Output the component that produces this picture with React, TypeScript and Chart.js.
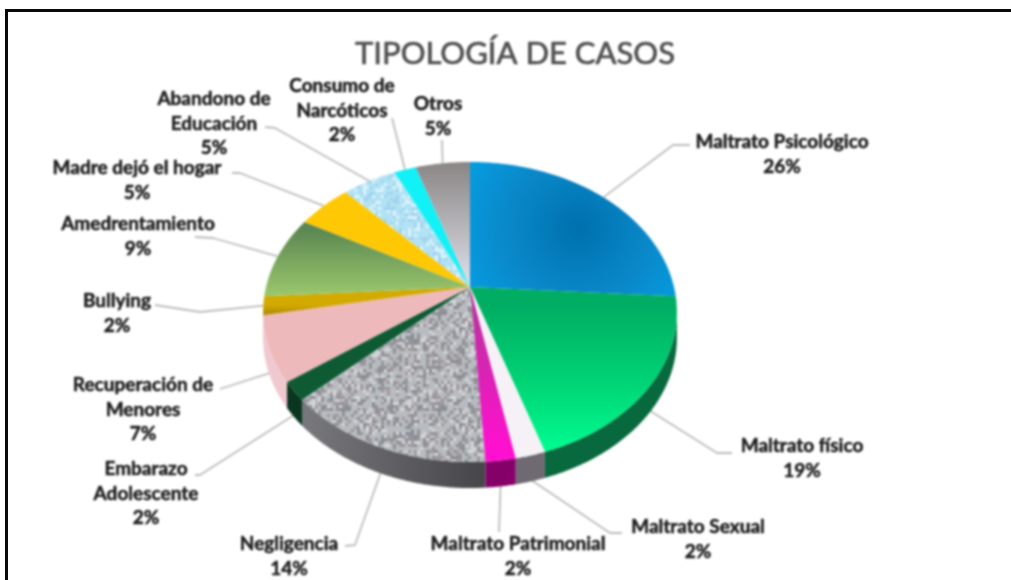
import React, { useEffect, useRef } from "react";
import { Chart, registerables, ArcElement, PieController } from "chart.js";

// ---------- data ----------
const categories = [
  "Maltrato Psicológico",
  "Maltrato físico",
  "Maltrato Sexual",
  "Maltrato Patrimonial",
  "Negligencia",
  "Embarazo Adolescente",
  "Recuperación de Menores",
  "Bullying",
  "Amedrentamiento",
  "Madre dejó el hogar",
  "Abandono de Educación",
  "Consumo de Narcóticos",
  "Otros",
];
const percentages = [26, 19, 2, 2, 14, 2, 7, 2, 9, 5, 5, 2, 5];
const titleText = "TIPOLOGÍA DE CASOS";
const wrappedLabels = [
  ["Maltrato Psicológico"],
  ["Maltrato físico"],
  ["Maltrato Sexual"],
  ["Maltrato Patrimonial"],
  ["Negligencia"],
  ["Embarazo", "Adolescente"],
  ["Recuperación de", "Menores"],
  ["Bullying"],
  ["Amedrentamiento"],
  ["Madre dejó el hogar"],
  ["Abandono de", "Educación"],
  ["Consumo de", "Narcóticos"],
  ["Otros"],
];

// ---------- annotation layout (not data) ----------
const labelCentres = [
  [782, 142], [802, 446], [698, 527], [518, 544], [289, 544], [146, 469], [143, 385],
  [117, 301], [138, 224], [137, 168], [214, 99], [342, 86], [438, 104],
];
const leaderBends = [
  [[673, 145], [690, 145]],
  [[717, 453], [732, 453]],
  [[610, 533], [622, 533]],
  [[499, 532]],
  [[355, 545], [345, 546]],
  [[200, 475], [195, 475]],
  [[220, 389]],
  [[200, 312], [155, 305]],
  [[213, 238], [195, 237]],
  [[240, 173], [232, 173]],
  [[275, 128], [265, 127]],
  [[392, 118]],
  [[442, 140]],
];

// ---------- tilted pie geometry ----------
const TILT = -1 / 6; // perspective of the tilted disc
const SQUASH = 0.715; // vertical foreshortening
const DEPTH = 26; // thickness of the disc
const FRONT_Y_OFFSET = 25; // the widest line of the disc sits this far under the apex

function project(el: any, angle: number): [number, number] {
  const u = Math.cos(angle);
  const v = Math.sin(angle);
  const w = 1 + TILT * v;
  return [el.x + (el.outerRadius * u) / w, el.y + (SQUASH * el.outerRadius * v) / w];
}

class TiltedArc extends ArcElement {
  static id = "tiltedArc";
  draw(ctx: CanvasRenderingContext2D) {
    const { startAngle, endAngle, y } = this as any;
    const options = (this as any).options;
    const steps = Math.max(4, Math.ceil((endAngle - startAngle) / 0.01));
    const edge: [number, number][] = [];
    for (let i = 0; i <= steps; i++) {
      edge.push(project(this, startAngle + ((endAngle - startAngle) * i) / steps));
    }
    const front = edge.filter((p) => p[1] >= y + FRONT_Y_OFFSET);
    ctx.save();
    if (front.length > 1) {
      ctx.beginPath();
      front.forEach((p, i) => (i ? ctx.lineTo(p[0], p[1]) : ctx.moveTo(p[0], p[1])));
      for (let i = front.length - 1; i >= 0; i--) ctx.lineTo(front[i][0], front[i][1] + DEPTH);
      ctx.closePath();
      ctx.fillStyle = options.borderColor;
      ctx.fill();
    }
    ctx.beginPath();
    ctx.moveTo((this as any).x, y);
    edge.forEach((p) => ctx.lineTo(p[0], p[1]));
    ctx.closePath();
    ctx.fillStyle = options.backgroundColor;
    ctx.fill();
    ctx.restore();
  }
}

class TiltedPie extends PieController {
  static id = "tiltedPie";
  static defaults = { ...(PieController as any).defaults, dataElementType: "tiltedArc" };
}

Chart.register(...registerables, TiltedArc as any, TiltedPie as any);

function texture(ctx: CanvasRenderingContext2D, base: string, speck: string[], cell: number, density: number) {
  const size = 96;
  const c = document.createElement("canvas");
  c.width = size;
  c.height = size;
  const t = c.getContext("2d")!;
  t.fillStyle = base;
  t.fillRect(0, 0, size, size);
  let s = 12345;
  const next = () => {
    s = (s * 1103515245 + 12345) & 0x7fffffff;
    return s / 0x7fffffff;
  };
  for (let x = 0; x < size; x += cell) {
    for (let y = 0; y < size; y += cell) {
      const r = next();
      if (r < density) {
        t.fillStyle = speck[Math.floor(next() * speck.length)];
        t.fillRect(x, y, cell, cell);
      }
    }
  }
  return ctx.createPattern(c, "repeat")!;
}

function linear(ctx: CanvasRenderingContext2D, x0: number, y0: number, x1: number, y1: number, stops: string[]) {
  const g = ctx.createLinearGradient(x0, y0, x1, y1);
  stops.forEach((c, i) => g.addColorStop(i / (stops.length - 1), c));
  return g;
}

function buildFills(ctx: CanvasRenderingContext2D) {
  const blue = ctx.createRadialGradient(578, 228, 0, 578, 228, 170);
  blue.addColorStop(0, "#0070ae");
  blue.addColorStop(0.45, "#0a8acb");
  blue.addColorStop(1, "#00aef5");
  return [
    blue,
    linear(ctx, 0, 303, 0, 455, ["#00ad62", "#00d274", "#00ff92"]),
    "#f6f1f6",
    linear(ctx, 0, 300, 0, 450, ["#b8349c", "#ff10d0"]),
    texture(ctx, "#b8bcc0", ["#92949a", "#d4d6d8", "#a2989e", "#8a8e94"], 3, 0.5),
    "#0e5a33",
    "#eeb9ba",
    linear(ctx, 0, 305, 0, 326, ["#d2aa00", "#866400"]),
    linear(ctx, 0, 230, 0, 305, ["#5c8853", "#a4d070"]),
    "#ffc804",
    texture(ctx, "#b2e2f4", ["#d9f3fb", "#a2d4ee"], 3, 0.4),
    "#12f1f6",
    linear(ctx, 0, 165, 0, 285, ["#8c8888", "#e0e0e8"]),
  ];
}

function buildWalls(ctx: CanvasRenderingContext2D) {
  return [
    "#0a6ea8",
    "#07693d",
    "#6f6a72",
    "#86006a",
    linear(ctx, 310, 0, 480, 0, ["#77777b", "#47474b"]),
    "#0a3520",
    "#f0c9d0",
    "#8e6c00",
    "#5c8853",
    "#ffc804",
    "#b2e2f4",
    "#12f1f6",
    "#8c8888",
  ];
}

const annotations = {
  id: "annotations",
  beforeDraw(chart: any) {
    const { ctx, width, height } = chart;
    ctx.save();
    ctx.fillStyle = "#ffffff";
    ctx.fillRect(0, 0, width, height);
    ctx.restore();
  },
  beforeDatasetsDraw(chart: any) {
    const { ctx } = chart;
    const arcs = chart.getDatasetMeta(0).data;
    ctx.save();
    ctx.strokeStyle = "#bdbdbd";
    ctx.lineWidth = 1.8;
    ctx.lineJoin = "round";
    arcs.forEach((arc: any, i: number) => {
      const [sx, sy] = project(arc, (arc.startAngle + arc.endAngle) / 2);
      const isFront = sy >= arc.y + FRONT_Y_OFFSET;
      ctx.beginPath();
      ctx.moveTo(sx, sy + (isFront ? DEPTH - 2 : 0));
      leaderBends[i].forEach((p) => ctx.lineTo(p[0], p[1]));
      ctx.stroke();
    });
    ctx.restore();
  },
  afterDraw(chart: any) {
    const { ctx } = chart;
    ctx.save();
    ctx.textAlign = "center";
    ctx.textBaseline = "middle";
    ctx.lineJoin = "round";
    ctx.fillStyle = "#505050";
    ctx.strokeStyle = "#505050";
    ctx.lineWidth = 0.7;
    ctx.font = '31px Lato, "Open Sans", sans-serif';
    ctx.strokeText(titleText, 515, 54);
    ctx.fillText(titleText, 515, 54);
    ctx.fillStyle = "#1c1c1c";
    ctx.strokeStyle = "#1c1c1c";
    ctx.lineWidth = 0.5;
    ctx.font = 'bold 19px Lato, "Open Sans", sans-serif';
    wrappedLabels.forEach((lines, i) => {
      const [cx, cy] = labelCentres[i];
      const all = [...lines, percentages[i] + "%"];
      all.forEach((t, k) => {
        ctx.strokeText(t, cx, cy + k * 24.5);
        ctx.fillText(t, cx, cy + k * 24.5);
      });
    });
    ctx.restore();
  },
};

export default function App() {
  const ref = useRef<HTMLCanvasElement>(null);
  useEffect(() => {
    const canvas = ref.current!;
    const ctx = canvas.getContext("2d")!;
    const chart = new Chart(ctx, {
      type: "tiltedPie" as any,
      data: {
        labels: categories,
        datasets: [
          {
            data: percentages,
            backgroundColor: buildFills(ctx) as any,
            borderColor: buildWalls(ctx) as any,
            borderWidth: 0,
          },
        ],
      },
      options: {
        responsive: false,
        animation: false,
        events: [],
        layout: { padding: { left: 266, right: 337, top: 83, bottom: 89 } },
        plugins: { legend: { display: false }, tooltip: { enabled: false }, title: { display: false } },
      } as any,
      plugins: [annotations as any],
    });
    return () => chart.destroy();
  }, []);
  return (
    <div style={{ position: "fixed", left: 0, top: 0, width: 1011, height: 580, background: "#fff", overflow: "hidden" }}>
      <canvas ref={ref} width={1011} height={580} style={{ display: "block", filter: "blur(1px)" }} />
      <div style={{ position: "absolute", left: 5, top: 9, width: 1006, height: 3, background: "#0a0a0a" }} />
      <div style={{ position: "absolute", left: 5, top: 9, width: 3, height: 571, background: "#0a0a0a" }} />
    </div>
  );
}
